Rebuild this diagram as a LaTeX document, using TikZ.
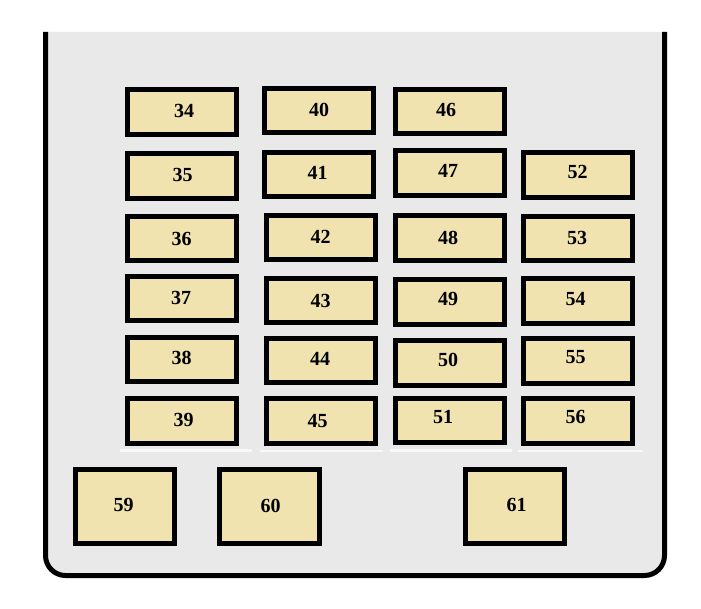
\documentclass[tikz,border=0pt]{standalone}
\usepackage{fontspec}
\setmainfont{Liberation Serif}
\definecolor{panelgray}{RGB}{233,233,233}
\definecolor{fusefill}{RGB}{240,227,176}
\definecolor{stripcol}{RGB}{248,248,248}
\tikzset{
  fusebox/.style={draw=black, fill=fusefill, line width=5pt, inner sep=0pt, outer sep=0pt},
  fuselabel/.style={inner sep=0pt, font=\fontsize{20}{20}\selectfont\bfseries},
  panelline/.style={draw=black, fill=panelgray, line width=5pt},
  stripline/.style={draw=stripcol, line width=2.5pt}
}
% #1 name, #2 x1, #3 y1, #4 x2, #5 y2 (outer edges), #6 label, #7 lx, #8 ly
\newcommand{\fusedraw}[8]{%
  \node[fusebox, minimum width={#4-#2-5}, minimum height={#5-#3-5}] (b#1) at ({(#2+#4)/2},{(#3+#5)/2}) {};
  \node[fuselabel] (l#1) at (#7,#8) {#6};
}
\begin{document}
\begin{tikzpicture}[x=1pt,y=-1pt]
\useasboundingbox (0,0) rectangle (701,609);
\fill[white] (0,0) rectangle (701,609);
% panel
\path[panelline, rounded corners=20pt] (45.5,32) -- (45.5,575.5) -- (664.5,575.5) -- (664.5,32);
% faint strips
\draw[stripline] (120,450.5) -- (252,450.5);
\draw[stripline] (260,451) -- (383,451);
\draw[stripline] (390,450.5) -- (512,450.5);
\draw[stripline] (518,451) -- (643,451);
% column 1
\fusedraw{34}{125}{87}{239}{137}{34}{184}{110.5}
\fusedraw{35}{125}{151}{239}{201}{35}{182.5}{175}
\fusedraw{36}{125}{214}{239}{263}{36}{181.5}{239}
\fusedraw{37}{125}{274}{239}{323}{37}{181}{297.5}
\fusedraw{38}{125}{335}{239}{384}{38}{181.5}{358}
\fusedraw{39}{125}{396}{239}{446}{39}{183.5}{420}
% column 2
\fusedraw{40}{262}{86}{376}{135}{40}{319}{109.5}
\fusedraw{41}{262}{150}{376}{199}{41}{317.5}{173}
\fusedraw{42}{264}{213}{378}{262}{42}{320.5}{237}
\fusedraw{43}{264}{276}{378}{325}{43}{320.5}{300.5}
\fusedraw{44}{264}{336}{378}{385}{44}{320}{359}
\fusedraw{45}{264}{396}{378}{446}{45}{317.5}{421}
% column 3
\fusedraw{46}{393}{87}{507}{136}{46}{446}{110}
\fusedraw{47}{393}{148}{507}{198}{47}{448}{171}
\fusedraw{48}{393}{213}{507}{263}{48}{448}{237.5}
\fusedraw{49}{393}{277}{507}{327}{49}{448}{299}
\fusedraw{50}{393}{338}{507}{388}{50}{448}{360}
\fusedraw{51}{393}{396}{507}{445}{51}{443}{416.5}
% column 4
\fusedraw{52}{521}{150}{635}{200}{52}{577.5}{172}
\fusedraw{53}{521}{214}{635}{263}{53}{577}{237.5}
\fusedraw{54}{521}{276}{635}{326}{54}{575.5}{299}
\fusedraw{55}{521}{336}{635}{386}{55}{575.5}{357.5}
\fusedraw{56}{521}{396}{635}{446}{56}{575.5}{417}
% bottom row
\fusedraw{59}{73}{467}{177}{546}{59}{123.5}{504.5}
\fusedraw{60}{217}{467}{322}{546}{60}{270.5}{505.5}
\fusedraw{61}{463}{467}{567}{546}{61}{516.5}{505}
\end{tikzpicture}
\end{document}
